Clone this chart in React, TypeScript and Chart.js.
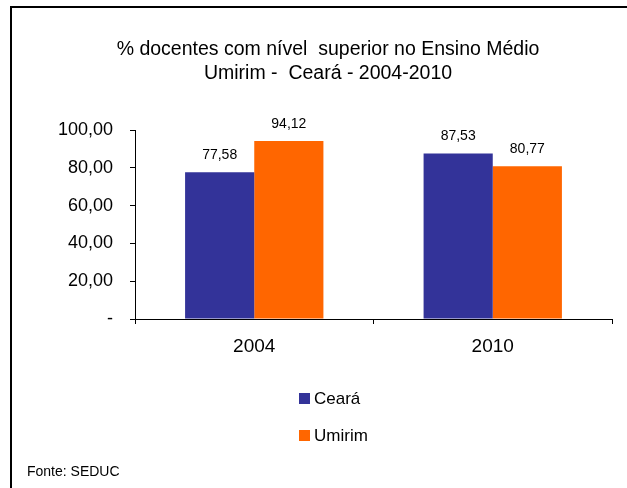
import React, { useEffect, useRef } from "react";
import { Chart, registerables } from "chart.js";

Chart.register(...registerables);

const categories = ["2004", "2010"];
const cearaValues = [77.58, 87.53];
const umirimValues = [94.12, 80.77];
const seriesNames = ["Ceará", "Umirim"];
const seriesColors = ["#333399", "#FF6600"];
const titleLines = ["% docentes com nível  superior no Ensino Médio", "Umirim -  Ceará - 2004-2010"];
const sourceText = "Fonte: SEDUC";
const yMax = 100;
const yStep = 20;

const FONT = "'Liberation Sans', Arial, sans-serif";

const fmt = (v: number) => (v === 0 ? "-" : v.toFixed(2).replace(".", ","));

const decorPlugin = {
  id: "decor",
  afterDraw(chart: any) {
    const ctx = chart.ctx as CanvasRenderingContext2D;
    ctx.save();
    // frame
    ctx.strokeStyle = "#000";
    ctx.lineWidth = 2;
    ctx.beginPath();
    ctx.moveTo(11, 520);
    ctx.lineTo(11, 7);
    ctx.lineTo(660, 7);
    ctx.stroke();

    // title
    ctx.fillStyle = "#000";
    ctx.font = `19.5px ${FONT}`;
    ctx.textAlign = "center";
    ctx.textBaseline = "middle";
    ctx.fillText(titleLines[0], 328, 50);
    ctx.fillText(titleLines[1], 328, 74);

    // data labels
    ctx.font = `14px ${FONT}`;
    chart.data.datasets.forEach((ds: any, i: number) => {
      const meta = chart.getDatasetMeta(i);
      meta.data.forEach((bar: any, j: number) => {
        ctx.fillText(fmt(ds.data[j]), bar.x, bar.y - 17);
      });
    });

    // legend
    ctx.textAlign = "left";
    ctx.font = `17px ${FONT}`;
    const legendY = [398.5, 435.5];
    chart.data.datasets.forEach((ds: any, i: number) => {
      ctx.fillStyle = ds.backgroundColor;
      ctx.fillRect(299, legendY[i] - 5.5, 11, 11);
      ctx.fillStyle = "#000";
      ctx.fillText(ds.label, 314, legendY[i] + 1);
    });

    // source
    ctx.font = `14px ${FONT}`;
    ctx.fillText(sourceText, 27, 472);
    ctx.restore();
  },
};

export default function App() {
  const ref = useRef<HTMLCanvasElement | null>(null);
  useEffect(() => {
    if (!ref.current) return;
    const chart = new Chart(ref.current, {
      type: "bar",
      data: {
        labels: categories,
        datasets: [
          { label: seriesNames[0], data: cearaValues, backgroundColor: seriesColors[0] },
          { label: seriesNames[1], data: umirimValues, backgroundColor: seriesColors[1] },
        ],
      },
      options: {
        animation: false,
        responsive: false,
        maintainAspectRatio: false,
        devicePixelRatio: 1,
        layout: { padding: { left: 0, right: 15, top: 130, bottom: 119 } },
        datasets: { bar: { categoryPercentage: 0.58, barPercentage: 1 } },
        plugins: { legend: { display: false }, title: { display: false }, tooltip: { enabled: false } },
        scales: {
          x: {
            afterFit: (s: any) => {
              s.height = 50;
            },
            grid: { offset: true, drawOnChartArea: false, tickLength: 5, color: "#000" },
            border: { color: "#000", width: 1 },
            ticks: { color: "#000", font: { family: FONT, size: 19 }, padding: 11 },
          },
          y: {
            min: 0,
            max: yMax,
            afterFit: (s: any) => {
              s.width = 135;
            },
            grid: { drawOnChartArea: false, tickLength: 5, color: "#000" },
            border: { color: "#000", width: 1 },
            ticks: {
              stepSize: yStep,
              color: "#000",
              font: { family: FONT, size: 18 },
              padding: 17,
              callback: (v: any) => fmt(Number(v)),
            },
          },
        },
      },
      plugins: [decorPlugin],
    });
    return () => chart.destroy();
  }, []);
  return (
    <div style={{ position: "fixed", left: 0, top: 0, width: 627, height: 488, background: "#fff" }}>
      <canvas ref={ref} width={627} height={488} style={{ width: 627, height: 488, display: "block" }} />
    </div>
  );
}
